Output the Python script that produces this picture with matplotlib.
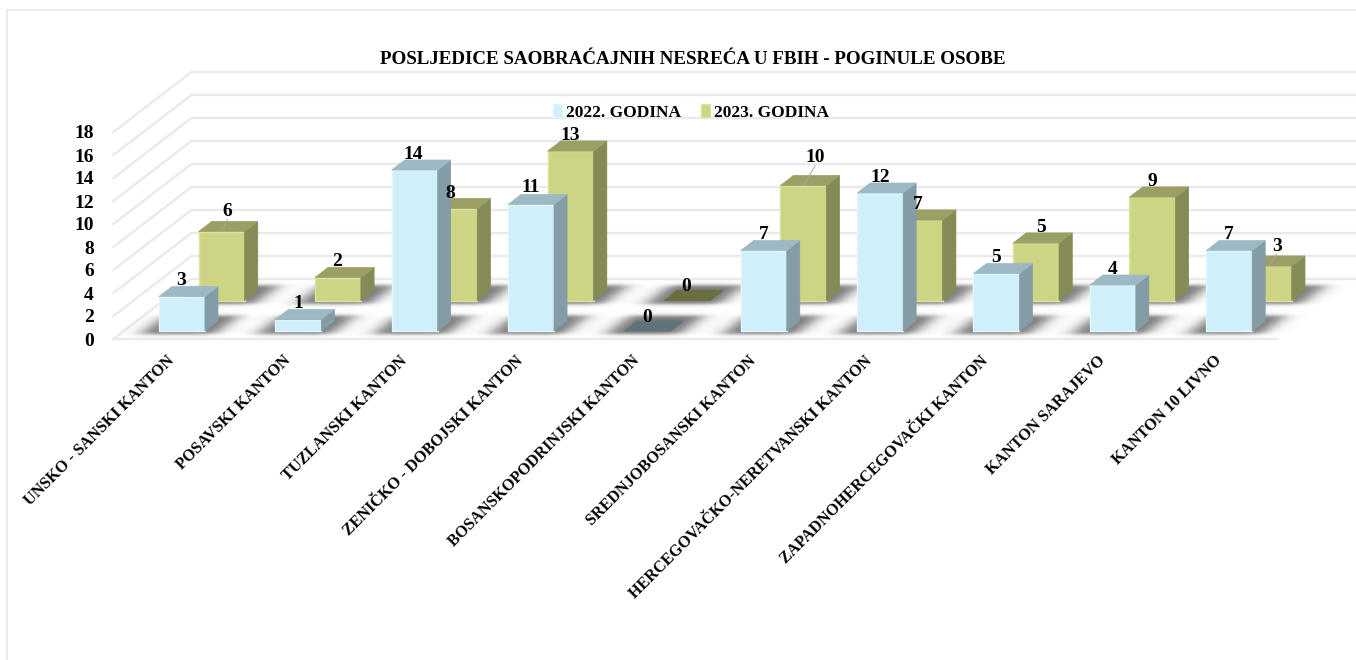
import matplotlib
matplotlib.use("Agg")
import matplotlib.pyplot as plt
from matplotlib.patches import Polygon, Patch
import numpy as np

W, H = 1356, 660

#Define datasets
kantoni = ["UNSKO - SANSKI KANTON", "POSAVSKI KANTON", "TUZLANSKI KANTON", "ZENIČKO - DOBOJSKI KANTON",
           "BOSANSKOPODRINJSKI KANTON", "SREDNJOBOSANSKI KANTON", "HERCEGOVAČKO-NERETVANSKI KANTON",
           "ZAPADNOHERCEGOVAČKI KANTON", "KANTON SARAJEVO", "KANTON 10 LIVNO"]
god_2022 = [3, 1, 14, 11, 0, 7, 12, 5, 4, 7]
god_2023 = [6, 2, 8, 13, 0, 10, 7, 5, 9, 3]
y_ticks = list(range(0, 20, 2))

plt.rcParams["font.family"] = ["Liberation Serif", "DejaVu Serif"]
plt.rcParams["font.weight"] = "bold"

fig = plt.figure(figsize=(W / 100, H / 100), dpi=100)
ax = fig.add_axes([113.4 / W, 1 - 339 / H, (1277 - 113.4) / W, 207 / H])
for s in ax.spines.values():
    s.set_visible(False)

#Fake 3D: depth d (0 front, 1 back) shears to the right and upward
px_x = (1277 - 113.4) / 10
px_y = 207 / 18
DX = 78 / px_x
DY = 60 / px_y
half = 23 / px_x


def pt(x, v, d):
    return (x + d * DX, v + d * DY)


def box(x, v, d0, d1, front, side, top, edge, z):
    ax.bar(x + d0 * DX, v, half * 2, bottom=d0 * DY, color=front, edgecolor=edge, linewidth=1, zorder=z, clip_on=False)
    ax.add_patch(Polygon([pt(x + half, 0, d0), pt(x + half, 0, d1), pt(x + half, v, d1), pt(x + half, v, d0)],
                         fc=side, ec=side, lw=0.5, zorder=z, clip_on=False))
    ax.add_patch(Polygon([pt(x - half, v, d0), pt(x + half, v, d0), pt(x + half, v, d1), pt(x - half, v, d1)],
                         fc=top, ec=top, lw=0.5, zorder=z, clip_on=False))


def band(t, a, b, s):
    return 0.5 * (np.tanh((t - a) / s) - np.tanh((t - b) / s))


#Gridlines on the walls
for v in y_ticks:
    ax.plot(*zip(pt(-0.5, v, 0), pt(-0.5, v, 1), pt(9.5, v, 1)), color="#EAEAEA", lw=1.7, zorder=1, clip_on=False)
ax.plot(*zip(pt(-0.5, 0, 0), pt(9.5, 0, 0)), color="#EAEAEA", lw=1.7, zorder=1, clip_on=False)

D_22 = (0.133, 0.30)
D_23 = (0.64, 0.81)

#Soft floor shadows as one blurred image
ext = (-1, 10.6, 0, DY)
gx, gy = np.meshgrid(np.linspace(ext[0], ext[1], 1400), np.linspace(ext[2], ext[3], 90))
gd = gy / DY
gu = gx - gd * DX
soft = np.zeros_like(gx)
for i in range(len(kantoni)):
    across = band(gu, i - 37 / px_x, i + 37 / px_x, 11 / px_x)
    soft += across * band(gd, D_22[0] - 0.055, D_22[1] + 0.09, 0.035)
    soft += across * band(gd, D_23[0] - 0.055, D_23[1] + 0.09, 0.035)
rgba = np.zeros(gx.shape + (4,))
rgba[..., :3] = 0.25
rgba[..., 3] = np.clip(soft, 0, 1) * 0.72
ax.imshow(rgba, extent=ext, origin="lower", aspect="auto", zorder=2, clip_on=False, interpolation="bilinear")
ax.set_xlim(-0.5, 9.5)
ax.set_ylim(0, 18)

#Bars, back row first
for i in range(len(kantoni)):
    if god_2023[i] == 0:
        box(i, 0, *D_23, "#6B6F3F", "#6B6F3F", "#6B6F3F", "none", 3)
    else:
        box(i, god_2023[i], *D_23, "#CDD585", "#868A56", "#9C9F63", "#DDE29F", 3)
for i in range(len(kantoni)):
    if god_2022[i] == 0:
        box(i, 0, *D_22, "#5F7479", "#5F7479", "#5F7479", "none", 5)
    else:
        box(i, god_2022[i], *D_22, "#CFEFFB", "#839CA6", "#9DB9C3", "#E2F6FD", 5)

#Data labels, nudged by hand in pixels where the original was
nudge_22 = {0: (-1, 0), 3: (0, 1), 2: (-1, 0), 4: (0, -2)}
nudge_23 = {0: (6, 4), 2: (-4, -1), 4: (-1, -2), 5: (12, 12), 7: (5, 0), 9: (8, 4), 6: (-2, 0), 1: (-1, 0)}
for i, v in enumerate(god_2022):
    n = nudge_22.get(i, (0, 0))
    ax.annotate(str(v), pt(i, v, D_22[0]), xytext=(n[0], 16 + n[1]), textcoords="offset pixels", ha="center", va="center",
                fontsize=14, color="black", zorder=10, annotation_clip=False)
for i, v in enumerate(god_2023):
    n = nudge_23.get(i, (0, 0))
    ax.annotate(str(v), pt(i, v, D_23[0]), xytext=(n[0], 16 + n[1]), textcoords="offset pixels", ha="center", va="center",
                fontsize=14, color="black", zorder=10, annotation_clip=False)
    if i in (0, 5, 9):
        ax.annotate("", pt(i, v, D_23[0]), xytext=(n[0], 8 + n[1]), textcoords="offset pixels",
                    arrowprops=dict(arrowstyle="-", color="#A6A6A6", lw=0.7, shrinkA=0, shrinkB=0),
                    zorder=9, annotation_clip=False)

ax.set_yticks(y_ticks)
ax.set_yticklabels([str(v) for v in y_ticks], fontsize=14)
ax.set_xticks(range(len(kantoni)))
ax.set_xticklabels(kantoni, rotation=45, ha="right", va="center", rotation_mode="anchor", fontsize=11.6)
ax.tick_params(axis="both", length=0)
ax.tick_params(axis="y", pad=14)
ax.tick_params(axis="x", pad=14)

fig.text(693 / W, 1 - 59 / H, "POSLJEDICE SAOBRAĆAJNIH NESREĆA U FBIH - POGINULE OSOBE", ha="center", va="center", fontsize=13.7)

handles = [Patch(fc="#CFEFFB", ec="#E2F6FD", label="2022. GODINA"), Patch(fc="#CDD585", ec="#DDE29F", label="2023. GODINA")]
fig.legend(handles=handles, loc="center", bbox_to_anchor=(691 / W, 1 - 112.5 / H), ncol=2, frameon=False, fontsize=12.5,
           handlelength=0.52, handleheight=0.75, handletextpad=0.25, columnspacing=1.15, borderpad=0)

#Chart border
fig.add_artist(plt.Line2D([6.5 / W, 6.5 / W], [0, 1 - 10 / H], color="#E8E8E8", lw=1.2))
fig.add_artist(plt.Line2D([6.5 / W, 1], [1 - 10 / H, 1 - 10 / H], color="#E8E8E8", lw=1.2))

fig.savefig("out.png", dpi=100)
